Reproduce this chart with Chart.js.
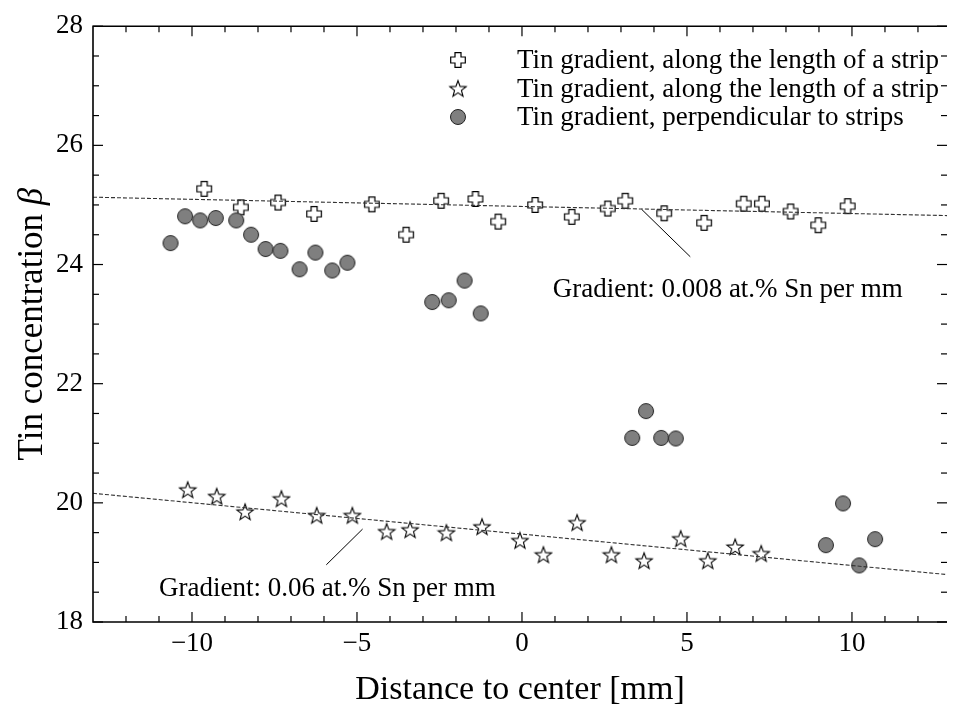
<!DOCTYPE html>
<html><head><meta charset="utf-8">
<script src="https://cdn.jsdelivr.net/npm/chart.js@4.4.1/dist/chart.umd.min.js"></script>
<style>html,body{margin:0;padding:0;background:#fff;overflow:hidden;}canvas{display:block;}</style>
</head><body>
<canvas id="c" width="956" height="710"></canvas>
<script>
// ---- data ----
const crossX = [-9.63, -8.52, -7.39, -6.30, -4.55, -3.51, -2.45, -1.41, -0.72, 0.40, 1.51, 2.60, 3.13, 4.31, 5.52, 6.72, 7.27, 8.14, 8.98, 9.87];
const crossY = [25.27, 24.96, 25.04, 24.85, 25.01, 24.50, 25.07, 25.10, 24.72, 25.00, 24.80, 24.94, 25.07, 24.86, 24.70, 25.02, 25.02, 24.89, 24.66, 24.98];
const starX = [-10.13, -9.25, -8.39, -7.29, -6.22, -5.14, -4.10, -3.39, -2.29, -1.21, -0.06, 0.65, 1.67, 2.71, 3.70, 4.81, 5.63, 6.46, 7.25];
const starY = [20.22, 20.11, 19.85, 20.07, 19.79, 19.79, 19.52, 19.55, 19.50, 19.60, 19.37, 19.13, 19.67, 19.13, 19.03, 19.40, 19.03, 19.26, 19.15];
const circX = [-10.65, -10.21, -9.75, -9.28, -8.66, -8.21, -7.77, -7.32, -6.74, -6.26, -5.75, -5.29, -2.72, -2.22, -1.74, -1.25, 3.34, 3.76, 4.22, 4.66, 9.21, 9.73, 10.22, 10.70];
const circY = [24.36, 24.81, 24.74, 24.78, 24.74, 24.50, 24.26, 24.23, 23.92, 24.20, 23.90, 24.03, 23.37, 23.40, 23.73, 23.18, 21.09, 21.54, 21.09, 21.08, 19.29, 19.99, 18.95, 19.39];
const fitUpperX = [-13, 13];
const fitUpperY = [25.13, 24.82];
const fitLowerX = [-13, 13];
const fitLowerY = [20.16, 18.79];
const pointerUpperX = [3.62, 5.10];
const pointerUpperY = [24.93, 24.13];
const pointerLowerX = [-4.83, -5.93];
const pointerLowerY = [19.56, 18.96];
const annotUpper = {text: 'Gradient: 0.008 at.% Sn per mm', x: 0.93, y: 23.46};
const annotLower = {text: 'Gradient: 0.06 at.% Sn per mm', x: -11.0, y: 18.44};
const legendLabels = ['Tin gradient, along the length of a strip', 'Tin gradient, along the length of a strip', 'Tin gradient, perpendicular to strips'];
const xTickLabels = [-10, -5, 0, 5, 10];
const xMinorTicks = [-12, -11, -9, -8, -7, -6, -4, -3, -2, -1, 1, 2, 3, 4, 6, 7, 8, 9, 11, 12];
const yTickLabels = [18, 20, 22, 24, 26, 28];
const yMinorTicks = [18.5, 19, 19.5, 20.5, 21, 21.5, 22.5, 23, 23.5, 24.5, 25, 25.5, 26.5, 27, 27.5];
const xRange = [-13, 12.88];
const xTitle = 'Distance to center [mm]';
const yTitle = 'Tin concentration ';
const yTitleSymbol = 'β';

const SERIF = '"Liberation Serif", "Times New Roman", serif';
const pts = (xs, ys) => xs.map((v, i) => ({x: v, y: ys[i]}));

// ---- marker images ----
function makeCross() {
  const c = document.createElement('canvas'); c.width = 18; c.height = 18;
  const g = c.getContext('2d'); g.translate(9, 9);
  const h = 7.3, a = 3;
  g.beginPath();
  g.moveTo(-a, -h); g.lineTo(a, -h); g.lineTo(a, -a); g.lineTo(h, -a); g.lineTo(h, a); g.lineTo(a, a);
  g.lineTo(a, h); g.lineTo(-a, h); g.lineTo(-a, a); g.lineTo(-h, a); g.lineTo(-h, -a); g.lineTo(-a, -a);
  g.closePath(); g.fillStyle = '#fff'; g.fill(); g.lineWidth = 1.2; g.strokeStyle = '#000'; g.stroke();
  return c;
}
function makeStar() {
  const c = document.createElement('canvas'); c.width = 20; c.height = 20;
  const g = c.getContext('2d'); g.translate(10, 10.8);
  const R = 8.6, r = 3.6;
  g.beginPath();
  for (let i = 0; i < 10; i++) {
    const ang = -Math.PI / 2 + i * Math.PI / 5;
    const rad = i % 2 === 0 ? R : r;
    const px = rad * Math.cos(ang), py = rad * Math.sin(ang);
    i === 0 ? g.moveTo(px, py) : g.lineTo(px, py);
  }
  g.closePath(); g.fillStyle = '#fff'; g.fill(); g.lineWidth = 1.1; g.strokeStyle = '#000'; g.stroke();
  return c;
}
function makeCircle() {
  const c = document.createElement('canvas'); c.width = 18; c.height = 18;
  const g = c.getContext('2d');
  g.beginPath(); g.arc(9, 9, 7.5, 0, Math.PI * 2);
  g.fillStyle = '#7f7f7f'; g.fill(); g.lineWidth = 1; g.strokeStyle = '#222'; g.stroke();
  return c;
}
const crossImg = makeCross(), starImg = makeStar(), circImg = makeCircle();
const markerImgs = [crossImg, starImg, circImg];

const decor = {
  id: 'decor',
  afterDraw(chart) {
    const {ctx, chartArea: a, scales: {x, y}} = chart;
    ctx.save();
    ctx.strokeStyle = '#000';
    ctx.lineWidth = 1.2;
    const seg = (x1, y1, x2, y2) => { ctx.beginPath(); ctx.moveTo(x1, y1); ctx.lineTo(x2, y2); ctx.stroke(); };
    xTickLabels.forEach(v => { const p = x.getPixelForValue(v); seg(p, a.bottom, p, a.bottom - 10); seg(p, a.top, p, a.top + 10); });
    xMinorTicks.forEach(v => { const p = x.getPixelForValue(v); seg(p, a.bottom, p, a.bottom - 6); seg(p, a.top, p, a.top + 6); });
    yTickLabels.forEach(v => { const p = y.getPixelForValue(v); seg(a.left, p, a.left + 10, p); seg(a.right, p, a.right - 10, p); });
    yMinorTicks.forEach(v => { const p = y.getPixelForValue(v); seg(a.left, p, a.left + 6, p); seg(a.right, p, a.right - 6, p); });
    ctx.lineWidth = 1.6;
    ctx.beginPath();
    ctx.moveTo(a.right, a.top); ctx.lineTo(a.left, a.top); ctx.lineTo(a.left, a.bottom); ctx.lineTo(a.right, a.bottom);
    ctx.stroke();

    // annotations
    ctx.fillStyle = '#000';
    ctx.font = '27px ' + SERIF;
    ctx.textAlign = 'left'; ctx.textBaseline = 'alphabetic';
    [annotUpper, annotLower].forEach(t => ctx.fillText(t.text, x.getPixelForValue(t.x), y.getPixelForValue(t.y)));

    // legend
    const lx = 458, ly0 = 60, dy = 28.5, tx = 517;
    legendLabels.forEach((lab, i) => {
      const yy = ly0 + i * dy;
      const img = markerImgs[i];
      ctx.drawImage(img, lx - img.width / 2, yy - img.height / 2);
      ctx.fillText(lab, tx, yy + 8);
    });

    // y title with italic beta
    ctx.translate(42, (a.top + a.bottom) / 2);
    ctx.rotate(-Math.PI / 2);
    ctx.font = '35px ' + SERIF;
    const w1 = ctx.measureText(yTitle).width;
    ctx.font = 'italic 35px ' + SERIF;
    const w2 = ctx.measureText(yTitleSymbol).width;
    const start = -(w1 + w2) / 2;
    ctx.font = '35px ' + SERIF;
    ctx.fillText(yTitle, start, 0);
    ctx.font = 'italic 35px ' + SERIF;
    ctx.fillText(yTitleSymbol, start + w1, 0);
    ctx.restore();
  }
};

new Chart(document.getElementById('c'), {
  type: 'scatter',
  data: {
    datasets: [
      {label: 'fitUpper', data: pts(fitUpperX, fitUpperY), showLine: true, borderColor: '#333', borderWidth: 1.1, borderDash: [4, 2], pointRadius: 0},
      {label: 'fitLower', data: pts(fitLowerX, fitLowerY), showLine: true, borderColor: '#333', borderWidth: 1.1, borderDash: [4, 2], pointRadius: 0},
      {label: 'pointerUpper', data: pts(pointerUpperX, pointerUpperY), showLine: true, borderColor: '#000', borderWidth: 1, pointRadius: 0},
      {label: 'pointerLower', data: pts(pointerLowerX, pointerLowerY), showLine: true, borderColor: '#000', borderWidth: 1, pointRadius: 0},
      {label: legendLabels[2], data: pts(circX, circY), pointStyle: circImg, pointRadius: 8},
      {label: legendLabels[0], data: pts(crossX, crossY), pointStyle: crossImg, pointRadius: 8},
      {label: legendLabels[1], data: pts(starX, starY), pointStyle: starImg, pointRadius: 8}
    ]
  },
  options: {
    responsive: false,
    animation: false,
    devicePixelRatio: 1,
    layout: {padding: {left: 0, top: 12, right: 0, bottom: 0}},
    plugins: {legend: {display: false}, tooltip: {enabled: false}},
    events: [],
    scales: {
      x: {
        type: 'linear', min: xRange[0], max: xRange[1],
        afterBuildTicks: s => { s.ticks = xTickLabels.map(v => ({value: v})); },
        afterFit: s => { s.height = 88; },
        grid: {display: false, drawTicks: false},
        border: {display: false},
        ticks: {padding: 6, color: '#000', font: {family: SERIF, size: 27}, maxRotation: 0,
                callback: v => String(v).replace('-', '\u2212')},
        title: {display: true, text: xTitle, color: '#000', font: {family: SERIF, size: 34}, padding: {top: 0, bottom: 0}}
      },
      y: {
        type: 'linear', min: 18, max: 28,
        afterBuildTicks: s => { s.ticks = yTickLabels.map(v => ({value: v})); },
        afterFit: s => { s.width = 93; },
        grid: {display: false, drawTicks: false},
        border: {display: false},
        ticks: {padding: 10, color: '#000', font: {family: SERIF, size: 27}}
      }
    }
  },
  plugins: [decor]
});
</script>
</body></html>
